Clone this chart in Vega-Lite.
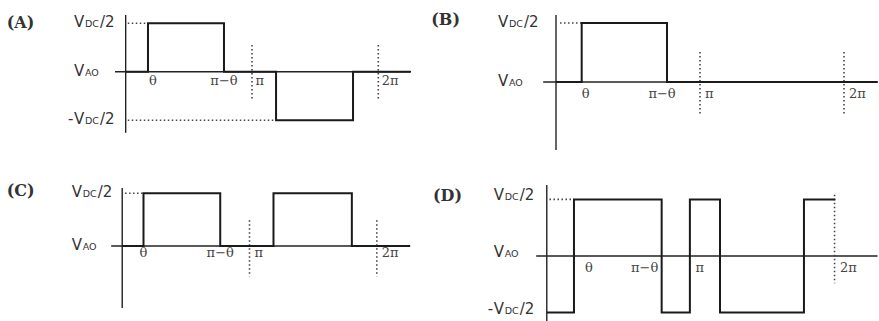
{
  "$schema": "https://vega.github.io/schema/vega-lite/v6.json",
  "padding": 0,
  "background": "white",
  "spacing": 0,
  "bounds": "flush",
  "columns": 2,
  "config": {"view": {"stroke": null}},
  "resolve": {"scale": {"x": "independent", "y": "independent"}},
  "concat": [
    {
      "width": 430, "height": 160,
      "encoding": {
        "x": {"field": "x", "type": "quantitative", "scale": {"domain": [-179.1, 433.7]}, "axis": null},
        "y": {"field": "y", "type": "quantitative", "scale": {"domain": [-1.821, 1.478]}, "axis": null}
      },
      "layer": [
        {"data": {"values": [{"x": -15.2, "x2": 406.6, "y": 0, "y2": 0}, {"x": 0, "x2": 0, "y": 1.17, "y2": -1.26}]},
         "mark": {"type": "rule", "color": "#222", "strokeWidth": 1.4},
         "encoding": {"x2": {"field": "x2"}, "y2": {"field": "y2"}}},
        {"data": {"values": [{"x": 180, "x2": 180, "y": 0.55, "y2": -0.58}, {"x": 360, "x2": 360, "y": 0.55, "y2": -0.58}, {"x": 3, "x2": 31.8, "y": 1, "y2": 1}, {"x": 3, "x2": 214.3, "y": -1, "y2": -1}]},
         "mark": {"type": "rule", "color": "#444", "strokeWidth": 1.6, "strokeDash": [1.5, 2.5]},
         "encoding": {"x2": {"field": "x2"}, "y2": {"field": "y2"}}},
        {"data": {"values": [{"x": 0, "y": 0}, {"x": 31.8, "y": 1}, {"x": 140.1, "y": 0}, {"x": 214.3, "y": -1}, {"x": 324, "y": 0}, {"x": 406, "y": 0}]},
         "mark": {"type": "line", "interpolate": "step-after", "color": "#1a1a1a", "strokeWidth": 2}},
        {"data": {"values": [{"x": 31.8, "y": 0, "lab": "θ"}]},
         "mark": {"type": "text", "font": "DejaVu Serif", "fontSize": 13, "color": "#444", "align": "center", "baseline": "middle", "dx": 5, "dy": 9},
         "encoding": {"text": {"field": "lab"}}},
        {"data": {"values": [{"x": 140.1, "y": 0, "lab": "π−θ"}]},
         "mark": {"type": "text", "font": "DejaVu Serif", "fontSize": 13, "color": "#444", "align": "center", "baseline": "middle", "dx": 0, "dy": 9},
         "encoding": {"text": {"field": "lab"}}},
        {"data": {"values": [{"x": 180, "y": 0, "lab": "π"}, {"x": 360, "y": 0, "lab": "2π"}]},
         "mark": {"type": "text", "font": "DejaVu Serif", "fontSize": 13, "color": "#444", "align": "left", "baseline": "middle", "dx": 3.5, "dy": 9},
         "encoding": {"text": {"field": "lab"}}},
        {"data": {"values": [{"x": 0, "y": 1, "lab": "(A)"}]},
         "mark": {"type": "text", "font": "DejaVu Serif", "fontWeight": "bold", "fontSize": 16, "color": "#333", "align": "left", "baseline": "middle", "dx": -119, "dy": 0},
         "encoding": {"text": {"field": "lab"}}},
        {"data": {"values": [{"x": 0, "y": 1, "pre": "", "sub": "DC", "suf": "/2"}, {"x": 0, "y": 0, "pre": "", "sub": "AO", "suf": ""}, {"x": 0, "y": -1, "pre": "-", "sub": "DC", "suf": "/2"}]},
         "layer": [
           {"mark": {"type": "text", "font": "DejaVu Sans", "fontSize": 15, "color": "#333", "align": "left", "baseline": "alphabetic", "dx": -51.7, "dy": 4}, "encoding": {"text": {"value": "V"}}},
           {"mark": {"type": "text", "font": "DejaVu Sans", "fontSize": 9.5, "color": "#333", "align": "left", "baseline": "alphabetic", "dx": -40.7, "dy": 4}, "encoding": {"text": {"field": "sub"}}},
           {"mark": {"type": "text", "font": "DejaVu Sans", "fontSize": 15, "color": "#333", "align": "left", "baseline": "alphabetic", "dx": -25.7, "dy": 4}, "encoding": {"text": {"field": "suf"}}},
           {"mark": {"type": "text", "font": "DejaVu Sans", "fontSize": 15, "color": "#333", "align": "right", "baseline": "alphabetic", "dx": -52.2, "dy": 4}, "encoding": {"text": {"field": "pre"}}}
         ]}
      ]
    },
    {
      "width": 449, "height": 160,
      "encoding": {
        "x": {"field": "x", "type": "quantitative", "scale": {"domain": [-157.5, 403.75]}, "axis": null},
        "y": {"field": "y", "type": "quantitative", "scale": {"domain": [-1.322, 1.39]}, "axis": null}
      },
      "layer": [
        {"data": {"values": [{"x": -16, "x2": 402, "y": 0, "y2": 0}, {"x": 0, "x2": 0, "y": 1.136, "y2": -1.153}]},
         "mark": {"type": "rule", "color": "#222", "strokeWidth": 1.4},
         "encoding": {"x2": {"field": "x2"}, "y2": {"field": "y2"}}},
        {"data": {"values": [{"x": 180, "x2": 180, "y": 0.51, "y2": -0.56}, {"x": 360, "x2": 360, "y": 0.51, "y2": -0.56}, {"x": 5, "x2": 32.1, "y": 1, "y2": 1}]},
         "mark": {"type": "rule", "color": "#444", "strokeWidth": 1.6, "strokeDash": [1.5, 2.5]},
         "encoding": {"x2": {"field": "x2"}, "y2": {"field": "y2"}}},
        {"data": {"values": [{"x": 0, "y": 0}, {"x": 32.1, "y": 1}, {"x": 138.75, "y": 0}, {"x": 402, "y": 0}]},
         "mark": {"type": "line", "interpolate": "step-after", "color": "#1a1a1a", "strokeWidth": 2}},
        {"data": {"values": [{"x": 32.1, "y": 0, "lab": "θ"}]},
         "mark": {"type": "text", "font": "DejaVu Serif", "fontSize": 13, "color": "#444", "align": "center", "baseline": "middle", "dx": 4, "dy": 12},
         "encoding": {"text": {"field": "lab"}}},
        {"data": {"values": [{"x": 138.75, "y": 0, "lab": "π−θ"}]},
         "mark": {"type": "text", "font": "DejaVu Serif", "fontSize": 13, "color": "#444", "align": "center", "baseline": "middle", "dx": -5, "dy": 12},
         "encoding": {"text": {"field": "lab"}}},
        {"data": {"values": [{"x": 180, "y": 0, "lab": "π"}, {"x": 360, "y": 0, "lab": "2π"}]},
         "mark": {"type": "text", "font": "DejaVu Serif", "fontSize": 13, "color": "#444", "align": "left", "baseline": "middle", "dx": 5, "dy": 12},
         "encoding": {"text": {"field": "lab"}}},
        {"data": {"values": [{"x": 0, "y": 1, "lab": "(B)"}]},
         "mark": {"type": "text", "font": "DejaVu Serif", "fontWeight": "bold", "fontSize": 16, "color": "#333", "align": "left", "baseline": "middle", "dx": -124.7, "dy": -3},
         "encoding": {"text": {"field": "lab"}}},
        {"data": {"values": [{"x": 0, "y": 1, "pre": "", "sub": "DC", "suf": "/2"}, {"x": 0, "y": 0, "pre": "", "sub": "AO", "suf": ""}]},
         "layer": [
           {"mark": {"type": "text", "font": "DejaVu Sans", "fontSize": 15, "color": "#333", "align": "left", "baseline": "alphabetic", "dx": -58, "dy": 4}, "encoding": {"text": {"value": "V"}}},
           {"mark": {"type": "text", "font": "DejaVu Sans", "fontSize": 9.5, "color": "#333", "align": "left", "baseline": "alphabetic", "dx": -47, "dy": 4}, "encoding": {"text": {"field": "sub"}}},
           {"mark": {"type": "text", "font": "DejaVu Sans", "fontSize": 15, "color": "#333", "align": "left", "baseline": "alphabetic", "dx": -32, "dy": 4}, "encoding": {"text": {"field": "suf"}}}
         ]}
      ]
    },
    {
      "width": 430, "height": 161,
      "encoding": {
        "x": {"field": "x", "type": "quantitative", "scale": {"domain": [-172.8, 435.2]}, "axis": null},
        "y": {"field": "y", "type": "quantitative", "scale": {"domain": [-1.423, 1.632]}, "axis": null}
      },
      "layer": [
        {"data": {"values": [{"x": -15.6, "x2": 407.2, "y": 0, "y2": 0}, {"x": 0, "x2": 0, "y": 1.1, "y2": -1.176}]},
         "mark": {"type": "rule", "color": "#222", "strokeWidth": 1.4},
         "encoding": {"x2": {"field": "x2"}, "y2": {"field": "y2"}}},
        {"data": {"values": [{"x": 180, "x2": 180, "y": 0.49, "y2": -0.58}, {"x": 360, "x2": 360, "y": 0.49, "y2": -0.58}, {"x": 4, "x2": 30.1, "y": 1, "y2": 1}]},
         "mark": {"type": "rule", "color": "#444", "strokeWidth": 1.6, "strokeDash": [1.5, 2.5]},
         "encoding": {"x2": {"field": "x2"}, "y2": {"field": "y2"}}},
        {"data": {"values": [{"x": 0, "y": 0}, {"x": 30.1, "y": 1}, {"x": 138.6, "y": 0}, {"x": 213.9, "y": 1}, {"x": 324.7, "y": 0}, {"x": 407, "y": 0}]},
         "mark": {"type": "line", "interpolate": "step-after", "color": "#1a1a1a", "strokeWidth": 2}},
        {"data": {"values": [{"x": 30.1, "y": 0, "lab": "θ"}]},
         "mark": {"type": "text", "font": "DejaVu Serif", "fontSize": 13, "color": "#444", "align": "center", "baseline": "middle", "dx": 0, "dy": 7},
         "encoding": {"text": {"field": "lab"}}},
        {"data": {"values": [{"x": 138.6, "y": 0, "lab": "π−θ"}]},
         "mark": {"type": "text", "font": "DejaVu Serif", "fontSize": 13, "color": "#444", "align": "center", "baseline": "middle", "dx": 0, "dy": 7},
         "encoding": {"text": {"field": "lab"}}},
        {"data": {"values": [{"x": 180, "y": 0, "lab": "π"}, {"x": 360, "y": 0, "lab": "2π"}]},
         "mark": {"type": "text", "font": "DejaVu Serif", "fontSize": 13, "color": "#444", "align": "left", "baseline": "middle", "dx": 5, "dy": 7},
         "encoding": {"text": {"field": "lab"}}},
        {"data": {"values": [{"x": 0, "y": 1, "lab": "(C)"}]},
         "mark": {"type": "text", "font": "DejaVu Serif", "fontWeight": "bold", "fontSize": 16, "color": "#333", "align": "left", "baseline": "middle", "dx": -115.5, "dy": -2},
         "encoding": {"text": {"field": "lab"}}},
        {"data": {"values": [{"x": 0, "y": 1, "pre": "", "sub": "DC", "suf": "/2"}, {"x": 0, "y": 0, "pre": "", "sub": "AO", "suf": ""}]},
         "layer": [
           {"mark": {"type": "text", "font": "DejaVu Sans", "fontSize": 15, "color": "#333", "align": "left", "baseline": "alphabetic", "dx": -50.5, "dy": 4}, "encoding": {"text": {"value": "V"}}},
           {"mark": {"type": "text", "font": "DejaVu Sans", "fontSize": 9.5, "color": "#333", "align": "left", "baseline": "alphabetic", "dx": -39.5, "dy": 4}, "encoding": {"text": {"field": "sub"}}},
           {"mark": {"type": "text", "font": "DejaVu Sans", "fontSize": 15, "color": "#333", "align": "left", "baseline": "alphabetic", "dx": -24.5, "dy": 4}, "encoding": {"text": {"field": "suf"}}}
         ]}
      ]
    },
    {
      "width": 449, "height": 161,
      "encoding": {
        "x": {"field": "x", "type": "quantitative", "scale": {"domain": [-146.9, 417.9]}, "axis": null},
        "y": {"field": "y", "type": "quantitative", "scale": {"domain": [-1.148, 1.696]}, "axis": null}
      },
      "layer": [
        {"data": {"values": [{"x": -13.3, "x2": 416, "y": 0, "y2": 0}, {"x": 0, "x2": 0, "y": 1.254, "y2": -1.148}]},
         "mark": {"type": "rule", "color": "#222", "strokeWidth": 1.4},
         "encoding": {"x2": {"field": "x2"}, "y2": {"field": "y2"}}},
        {"data": {"values": [{"x": 362, "x2": 362, "y": 1.08, "y2": -0.48}, {"x": 3.4, "x2": 34.2, "y": 1, "y2": 1}]},
         "mark": {"type": "rule", "color": "#444", "strokeWidth": 1.6, "strokeDash": [1.5, 2.5]},
         "encoding": {"x2": {"field": "x2"}, "y2": {"field": "y2"}}},
        {"data": {"values": [{"x": 0, "y": -1}, {"x": 34.2, "y": 1}, {"x": 144.5, "y": -1}, {"x": 180, "y": 1}, {"x": 217.9, "y": -1}, {"x": 323.5, "y": 1}, {"x": 363, "y": 1}]},
         "mark": {"type": "line", "interpolate": "step-after", "color": "#1a1a1a", "strokeWidth": 2}},
        {"data": {"values": [{"x": 34.2, "y": 0, "lab": "θ"}]},
         "mark": {"type": "text", "font": "DejaVu Serif", "fontSize": 13, "color": "#444", "align": "center", "baseline": "middle", "dx": 15, "dy": 11.5},
         "encoding": {"text": {"field": "lab"}}},
        {"data": {"values": [{"x": 144.5, "y": 0, "lab": "π−θ"}]},
         "mark": {"type": "text", "font": "DejaVu Serif", "fontSize": 13, "color": "#444", "align": "center", "baseline": "middle", "dx": -17, "dy": 11.5},
         "encoding": {"text": {"field": "lab"}}},
        {"data": {"values": [{"x": 180, "y": 0, "lab": "π"}, {"x": 362, "y": 0, "lab": "2π"}]},
         "mark": {"type": "text", "font": "DejaVu Serif", "fontSize": 13, "color": "#444", "align": "left", "baseline": "middle", "dx": 5.5, "dy": 11.5},
         "encoding": {"text": {"field": "lab"}}},
        {"data": {"values": [{"x": 0, "y": 1, "lab": "(D)"}]},
         "mark": {"type": "text", "font": "DejaVu Serif", "fontWeight": "bold", "fontSize": 16, "color": "#333", "align": "left", "baseline": "middle", "dx": -113.8, "dy": -3},
         "encoding": {"text": {"field": "lab"}}},
        {"data": {"values": [{"x": 0, "y": 1, "pre": "", "sub": "DC", "suf": "/2"}, {"x": 0, "y": 0, "pre": "", "sub": "AO", "suf": ""}, {"x": 0, "y": -1, "pre": "-", "sub": "DC", "suf": "/2"}]},
         "layer": [
           {"mark": {"type": "text", "font": "DejaVu Sans", "fontSize": 15, "color": "#333", "align": "left", "baseline": "alphabetic", "dx": -53, "dy": 1}, "encoding": {"text": {"value": "V"}}},
           {"mark": {"type": "text", "font": "DejaVu Sans", "fontSize": 9.5, "color": "#333", "align": "left", "baseline": "alphabetic", "dx": -42, "dy": 1}, "encoding": {"text": {"field": "sub"}}},
           {"mark": {"type": "text", "font": "DejaVu Sans", "fontSize": 15, "color": "#333", "align": "left", "baseline": "alphabetic", "dx": -27, "dy": 1}, "encoding": {"text": {"field": "suf"}}},
           {"mark": {"type": "text", "font": "DejaVu Sans", "fontSize": 15, "color": "#333", "align": "right", "baseline": "alphabetic", "dx": -53.5, "dy": 1}, "encoding": {"text": {"field": "pre"}}}
         ]}
      ]
    }
  ]
}
